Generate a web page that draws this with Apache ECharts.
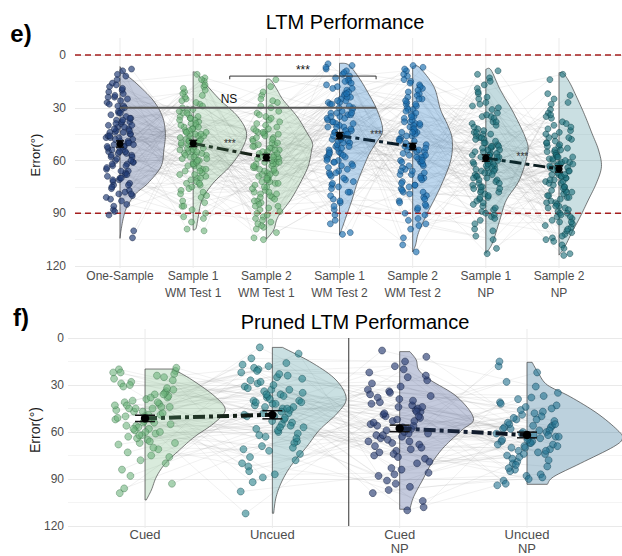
<!DOCTYPE html>
<html><head><meta charset="utf-8">
<script src="https://cdn.jsdelivr.net/npm/echarts@6/dist/echarts.min.js"></script>
<style>html,body{margin:0;padding:0;background:#fff}#c{width:622px;height:556px}</style>
</head><body><div id="c"></div>
<script>
// ---------- categories / ticks ----------
const topCategories = ['One-Sample','Sample 1\nWM Test 1','Sample 2\nWM Test 1','Sample 1\nWM Test 2','Sample 2\nWM Test 2','Sample 1\nNP','Sample 2\nNP'];
const bottomCategories = ['Cued','Uncued','Cued\nNP','Uncued\nNP'];
const yTicks = [0,30,60,90,120];
const refLines = [0,90];

// ---------- top panel: error per participant (deg) ----------
const oneSample = [47,22,63,38,71,55,12,44,80,31, 58,66,41,27,52,74,36,49,18,85, 43,61,9,54,77,33,46,68,24,57, 39,82,50,14,65,29,72,45,53,91, 35,60,48,20,76,42,56,69,30,51, 79,26,44,62,37,100,54,16,73,47, 40,67,23,58,83,34,49,11,64,52, 88,45,70,28,56,39,61,19,75,50, 32,53,78,42,8,66,47,25,59,81, 44,71,36,55,21,63,48,104,38,57, 74,29,52,41,86,60,33,46,68,17, 51,37,62,43,79,24,55,89,40,70];
const s1wm1 = [52,35,70,44,18,61,83,28,49,57, 40,66,23,55,77,46,31,13,63,92, 48,58,37,72,25,53,42,86,60,34, 69,45,21,56,39,79,50,99,15,62, 33,74,47,59,27,43,65,88,51,38, 55,20,68,41,81,36,54,11,73,46, 62,30,49,76,44,57,24,67,95,40, 35,53,84,58,19,70,45,32,61,48, 78,42,26,64,51,90,37,56,14,71, 47,60,33,100,54,22,66,43,80,39, 57,29,75,50,41,63,17,52,86,45, 36,68,55,44,93,31,59,73,49,65];
const s2wm1 = [61,44,78,53,29,86,67,39,57,92, 48,72,56,101,35,64,81,23,59,70, 83,51,66,42,95,58,27,75,62,47, 55,89,37,69,14,77,52,63,84,45, 71,33,60,98,49,80,65,41,57,93, 26,68,54,87,44,73,61,104,36,79, 58,91,47,66,21,76,53,85,62,40, 74,50,97,32,69,59,82,45,64,18, 88,56,71,43,62,94,38,78,51,67, 46,83,60,25,73,55,90,65,105,52, 68,34,79,57,86,48,72,61,42,96, 54,75,63,30,81,50,70,99,58,44];
const s1wm2 = [38,12,55,27,71,44,6,63,33,49, 18,58,41,82,24,35,67,9,52,30, 46,74,15,60,37,22,88,43,56,28, 65,33,8,50,19,78,40,57,26,94, 31,47,69,14,53,36,23,61,42,84, 55,20,39,72,11,48,29,66,5,58, 44,62,25,80,34,51,17,70,38,101, 27,54,45,13,63,32,76,21,49,59, 36,86,16,47,68,24,41,7,57,73, 50,30,64,43,91,19,53,35,78,26, 60,10,46,34,83,56,22,67,39,102, 28,52,75,41,15,61,33,48,96,45];
const s2wm2 = [44,9,58,31,72,17,63,86,39,52, 25,68,47,93,12,55,35,78,61,41, 83,29,50,7,66,44,97,21,57,74, 36,61,15,48,88,27,70,53,108,40, 57,80,33,65,19,46,76,59,24,91, 49,11,69,38,84,55,28,63,42,77, 22,52,96,45,8,71,34,60,87,30, 67,40,56,18,79,48,112,26,62,37, 73,54,31,85,43,14,58,99,68,23, 46,81,6,64,39,75,51,28,90,60, 35,66,20,54,82,42,104,70,16,49, 58,32,78,44,61,25,94,53,74,38];
const s1np = [62,35,78,51,24,69,88,45,57,13, 73,40,59,96,31,66,52,81,19,63, 48,85,56,28,71,60,103,38,75,54, 67,22,49,79,44,92,58,9,64,83, 36,55,74,61,47,110,27,68,52,89, 58,80,42,65,17,76,53,94,33,70, 46,62,86,39,57,25,72,50,99,64, 77,30,54,69,91,43,61,15,82,56, 63,48,100,35,73,59,21,87,67,41, 52,75,60,113,44,66,84,29,57,71, 38,90,55,68,47,78,62,11,93,50, 70,45,81,58,34,65,105,53,76,60];
const s2np = [68,42,87,55,101,73,31,64,92,50, 79,60,23,95,47,70,84,58,108,36, 66,89,52,75,40,98,62,14,81,57, 45,72,104,61,86,33,77,54,93,69, 83,27,65,50,110,74,43,90,59,78, 56,97,38,68,81,62,22,102,71,48, 91,64,53,85,35,76,59,113,44,80, 70,49,96,61,28,88,67,55,75,106, 41,82,63,100,57,72,11,94,66,52, 87,60,46,78,69,34,99,58,84,114, 65,92,51,73,39,86,62,103,77,47, 58,80,68,25,95,54,71,90,63,105];

// means and CI half-widths
const topMeans = [50.6,50.3,58.3,45.9,52.0,58.6,64.8];
const topCI = [1.8,1.8,1.8,1.8,1.8,1.8,1.8];
const topPairs = [[2,3],[4,5],[6,7]];

// half-violin profiles: [error, half-width in category units]
const vOne  = [[6.6,0],[10.4,0.06],[16,0.22],[25.6,0.45],[35,0.58],[44.5,0.62],[54,0.6],[63.5,0.56],[73,0.38],[78.7,0.22],[86,0.1],[92,0.05],[99.5,0.015],[104.3,0]];
const vS1W1 = [[9.5,0],[10.5,0.05],[16,0.16],[25.6,0.37],[35,0.61],[44.5,0.73],[54,0.66],[63.5,0.5],[73,0.27],[82.5,0.12],[92,0.07],[98.5,0.04],[99.6,0]];
const vS2W1 = [[13.8,0],[14.2,0.06],[20,0.15],[25.6,0.23],[35,0.42],[44.5,0.56],[50,0.63],[54,0.62],[63.5,0.57],[73,0.46],[82.5,0.33],[92,0.16],[99.5,0.1],[104.8,0]];
const vS1W2 = [[4.7,0],[5.5,0.12],[12,0.25],[20,0.37],[31,0.51],[42.7,0.59],[50,0.5],[56,0.41],[63.5,0.33],[73,0.24],[82.5,0.17],[92,0.09],[98,0.04],[102.4,0]];
const vS2W2 = [[6.6,0],[7,0.09],[18,0.29],[31,0.38],[40,0.48],[48,0.54],[60,0.52],[75,0.38],[90,0.2],[101,0.08],[108,0.04],[112,0]];
const vS1NP = [[8.1,0],[8.5,0.07],[20,0.2],[33,0.38],[48,0.55],[56,0.57],[71,0.46],[82.5,0.28],[94,0.19],[107,0.09],[112.8,0]];
const vS2NP = [[10,0],[10.5,0.06],[16,0.15],[25.6,0.26],[35,0.36],[44.5,0.45],[54,0.54],[63.5,0.58],[73,0.51],[82.5,0.4],[92,0.29],[101.4,0.17],[109,0.08],[113.8,0]];

// ---------- bottom panel ----------
const cued = [22,45,63,38,54,20,71,47,33,58, 41,25,67,52,36,88,44,60,29,49, 56,21,75,43,34,62,51,24,40,93, 65,31,48,57,26,70,45,37,53,99, 42,59,23,66,50,35,78,46,61,28, 55,39,84,44,64,19,52,73,32,47, 68,41,58,27,49,96,36,62,43,54, 30,76,50,22,60,45,67,38,56,80];
const uncued = [38,17,55,29,66,42,82,24,48,35, 60,19,44,72,31,52,6,40,87,27, 46,63,22,36,58,78,33,50,16,69, 41,25,92,54,37,71,45,20,61,30, 85,48,34,57,23,43,67,39,112,51, 28,74,42,13,56,36,80,47,21,64, 53,32,45,89,26,59,40,70,18,49, 37,62,10,50,76,33,44,98,57,41];
const cuedNP = [47,72,29,58,91,12,63,38,80,53, 66,25,49,104,44,75,56,34,86,60, 41,68,18,55,95,50,77,31,62,46, 83,37,58,8,70,52,99,43,65,27, 57,88,45,74,22,61,48,108,39,69, 53,35,79,15,64,51,93,42,71,59, 24,84,56,47,67,33,110,62,44,76, 54,40,97,61,20,73,50,87,36,66];
const uncuedNP = [58,71,44,66,87,52,63,38,75,60, 49,68,22,80,56,64,91,47,72,35, 62,55,78,69,41,59,84,53,67,93, 74,46,61,31,70,57,88,65,50,79, 43,66,54,82,60,18,73,51,68,90, 57,37,76,63,48,85,59,70,42,64, 81,55,67,28,72,61,94,52,77,45, 65,58,89,39,69,56,83,62,74,15];

const bottomMeans = [51.3,49.0,57.7,61.9];
const bottomCI = [2.0,2.6,2.1,1.8];
const bottomPairs = [[1,2],[3,4]];

const vCued    = [[19.8,0.22],[26.8,0.37],[37.4,0.55],[46,0.63],[54.5,0.54],[63,0.39],[71.5,0.27],[80,0.16],[88.5,0.09],[97,0.05],[103.4,0.01]];
const vUncued  = [[6,0.08],[16.2,0.32],[26.8,0.5],[38.5,0.58],[48,0.51],[58.7,0.37],[69.4,0.27],[80,0.16],[90.6,0.08],[101.3,0.03],[111.9,0.01]];
const vCuedNP  = [[8.7,0.08],[14,0.13],[20.4,0.15],[26.8,0.24],[37.5,0.45],[51.3,0.58],[58.7,0.49],[69.4,0.35],[80,0.25],[90.6,0.18],[101.3,0.11],[109.3,0.08]];
const vUncuedNP= [[15.5,0.04],[22.5,0.09],[30,0.16],[37.5,0.34],[48,0.55],[58.7,0.71],[64,0.75],[69.4,0.68],[80,0.42],[88.5,0.21],[93.4,0.16]];

// annotations (data coordinates)
const topStars = [[2.5,50.5,'***'],[4.5,45.3,'***'],[6.5,57.8,'***']];
const topLabels2 = [[3.5,8.6,'***'],[2.49,25.2,'NS']];
const nsLine = [[1,30],[4.5,30]];
const bracket = [[2.5,13.8],[2.5,12],[4.5,12],[4.5,13.8]];
const separatorX = 2.6;

// ---------- styles ----------
const FONT = '"Liberation Sans", Arial, sans-serif';
const topPt = [
  ['rgba(35,62,120,0.68)','rgba(15,28,60,0.75)'],
  ['rgba(105,178,118,0.6)','rgba(50,105,62,0.65)'],
  ['rgba(105,178,118,0.6)','rgba(50,105,62,0.65)'],
  ['rgba(28,112,178,0.66)','rgba(12,58,100,0.75)'],
  ['rgba(28,112,178,0.66)','rgba(12,58,100,0.75)'],
  ['rgba(28,112,122,0.62)','rgba(10,60,66,0.75)'],
  ['rgba(28,112,122,0.62)','rgba(10,60,66,0.75)']];
const topVFill = ['rgba(60,82,140,0.3)','rgba(125,188,135,0.28)','rgba(125,188,135,0.28)','rgba(70,140,205,0.36)','rgba(70,140,205,0.36)','rgba(80,150,160,0.34)','rgba(80,150,160,0.3)'];
const botPt = [
  ['rgba(105,178,120,0.58)','rgba(50,105,65,0.6)'],
  ['rgba(40,130,140,0.6)','rgba(15,70,78,0.7)'],
  ['rgba(45,65,118,0.66)','rgba(18,28,60,0.75)'],
  ['rgba(35,115,145,0.6)','rgba(12,60,80,0.7)']];
const botVFill = ['rgba(130,190,140,0.3)','rgba(90,160,165,0.32)','rgba(70,90,150,0.32)','rgba(80,135,165,0.38)'];
const topPairCol = [['#2a4a33','#101510'],['#0f2d45','#0a141c'],['#0c3338','#0a1416']];
const botPairCol = [['#30523a','#080c09'],['#1e2c4a','#081018']];

// ---------- build ----------
const topSets = [oneSample,s1wm1,s2wm1,s1wm2,s2wm2,s1np,s2np];
const botSets = [cued,uncued,cuedNP,uncuedNP];
const topV = [vOne,vS1W1,vS2W1,vS1W2,vS2W2,vS1NP,vS2NP];
const botV = [vCued,vUncued,vCuedNP,vUncuedNP];

function jit(i,k){ return ((i*0.6180339887 + k*0.41421356) % 1) - 0.5; }

function catmull(pts, n, minX){
  const out=[];
  for(let i=0;i<pts.length-1;i++){
    const p0=pts[i-1]||pts[i], p1=pts[i], p2=pts[i+1], p3=pts[i+2]||pts[i+1];
    for(let s=0;s<n;s++){
      const t=s/n,t2=t*t,t3=t2*t;
      const f=(a,b,c,d)=>0.5*((2*b)+(-a+c)*t+(2*a-5*b+4*c-d)*t2+(-a+3*b-3*c+d)*t3);
      out.push([Math.max(minX,f(p0[0],p1[0],p2[0],p3[0])), f(p0[1],p1[1],p2[1],p3[1])]);
    }
  }
  out.push(pts[pts.length-1]);
  return out;
}

const series=[];
function lineGrad(c){ return {type:'linear',x:0,y:0,x2:1,y2:0,colorStops:[{offset:0,color:c[0]},{offset:1,color:c[1]}]}; }

function panel(g, nCat, sets, vio, ptSty, vFill, jw, ptSize, means, cis, capPx, rPx, pairs, pairCol, lw, gridExt){
  series.push({type:'custom',xAxisIndex:g,yAxisIndex:g,z:1,silent:true,clip:false,animation:false,
    data:Array.from({length:nCat},(_,k)=>[k+1,0]),
    renderItem(params,api){const cs=params.coordSys;const p=api.coord([api.value(0),0]);
      return {type:'line',shape:{x1:p[0],y1:cs.y-gridExt,x2:p[0],y2:cs.y+cs.height+2},style:{stroke:'#ebebeb',lineWidth:1}};}});
  const n=Math.min(...sets.map(s=>s.length));
  const subj=[];
  for(let i=0;i<n;i++) subj.push({coords:sets.map((s,k)=>[k+1+jit(i,k)*jw, s[i]])});
  series.push({type:'lines',coordinateSystem:'cartesian2d',xAxisIndex:g,yAxisIndex:g,polyline:true,silent:true,z:2,animation:false,
    lineStyle:{color:'rgba(150,150,150,0.28)',width:0.5,opacity:1},data:subj});
  vio.forEach((prof,k)=>{
    const cx=k+1;
    series.push({type:'custom',xAxisIndex:g,yAxisIndex:g,z:3,silent:true,clip:false,animation:false,
      data:[[cx,prof[0][0]]],
      renderItem(params,api){
        const c0=api.coord([cx,prof[0][0]]);
        const pts=prof.map(p=>api.coord([cx+p[1],p[0]]));
        const curve=catmull(pts,8,c0[0]);
        const bot=api.coord([cx,prof[prof.length-1][0]]);
        return {type:'polygon',shape:{points:[c0].concat(curve,[bot])},style:{fill:vFill[k],stroke:'#444',lineWidth:0.7}};
      }});
  });
  sets.forEach((s,k)=>{
    series.push({type:'scatter',xAxisIndex:g,yAxisIndex:g,z:5,silent:true,animation:false,symbolSize:ptSize,
      itemStyle:{color:ptSty[k][0],borderColor:ptSty[k][1],borderWidth:0.6,opacity:1},
      data:s.map((v,i)=>[k+1+jit(i,k)*jw, v])});
  });
  pairs.forEach((pr,j)=>{
    series.push({type:'line',xAxisIndex:g,yAxisIndex:g,z:7,silent:true,animation:false,symbol:'none',
      lineStyle:{color:lineGrad(pairCol[j]),width:lw,type:[12,4,4,4]},
      data:[[pr[0],means[pr[0]-1]],[pr[1],means[pr[1]-1]]]});
  });
  series.push({type:'custom',xAxisIndex:g,yAxisIndex:g,z:8,silent:true,clip:false,animation:false,
    data:means.map((m,k)=>[k+1,m,m-cis[k],m+cis[k]]),
    renderItem(params,api){
      const x=api.value(0);const pm=api.coord([x,api.value(1)]);const lo=api.coord([x,api.value(2)]);const hi=api.coord([x,api.value(3)]);
      return {type:'group',children:[
        {type:'line',shape:{x1:lo[0],y1:lo[1],x2:hi[0],y2:hi[1]},style:{stroke:'#111',lineWidth:1.5}},
        {type:'line',shape:{x1:lo[0]-capPx,y1:lo[1],x2:lo[0]+capPx,y2:lo[1]},style:{stroke:'#111',lineWidth:1.5}},
        {type:'line',shape:{x1:hi[0]-capPx,y1:hi[1],x2:hi[0]+capPx,y2:hi[1]},style:{stroke:'#111',lineWidth:1.5}},
        {type:'circle',shape:{cx:pm[0],cy:pm[1],r:rPx},style:{fill:'#000'}}]};
    }});
}

panel(0,7,topSets,topV,topPt,topVFill,0.38,6,topMeans,topCI,4,3.6,topPairs,topPairCol,3,17);
panel(1,4,botSets,botV,botPt,botVFill,0.5,7,bottomMeans,bottomCI,10,4.2,bottomPairs,botPairCol,4,9);

series.push({type:'custom',xAxisIndex:0,yAxisIndex:0,z:4,silent:true,clip:false,animation:false,
  data:refLines.map(v=>[1,v]),
  renderItem(params,api){const cs=params.coordSys;const p=api.coord([1,api.value(1)]);
    return {type:'line',shape:{x1:cs.x,y1:p[1],x2:cs.x+cs.width,y2:p[1]},style:{stroke:'#a51e1e',lineWidth:1.5,lineDash:[6,4]}};}});
series.push({type:'custom',xAxisIndex:0,yAxisIndex:0,z:6,silent:true,clip:false,animation:false,
  data:[[nsLine[0][0],nsLine[0][1]]],
  renderItem(params,api){
    return {type:'group',children:[
      {type:'polyline',shape:{points:nsLine.map(p=>api.coord(p))},style:{stroke:'#5a5a5a',lineWidth:1.8,fill:null}},
      {type:'polyline',shape:{points:bracket.map(p=>api.coord(p))},style:{stroke:'#333',lineWidth:1,fill:null}}]};
  }});
function textSeries(g,items,size,col){
  series.push({type:'scatter',xAxisIndex:g,yAxisIndex:g,z:9,silent:true,animation:false,symbolSize:2,
    itemStyle:{color:'rgba(0,0,0,0)',borderWidth:0},
    label:{show:true,position:'inside',formatter:p=>p.value[2],color:col,fontSize:size,fontFamily:FONT,opacity:1},
    labelLayout:{hideOverlap:false},
    data:items});
}
textSeries(0,topStars,10,'#333');
textSeries(0,topLabels2,12,'#111');
series.push({type:'custom',xAxisIndex:1,yAxisIndex:1,z:6,silent:true,clip:false,animation:false,
  data:[[separatorX,0]],
  renderItem(params,api){const a=api.coord([separatorX,0]);const b=api.coord([separatorX,120]);
    return {type:'line',shape:{x1:a[0],y1:a[1],x2:b[0],y2:b[1]},style:{stroke:'#333',lineWidth:1}};}});

function yAx(g,margin){
  return {gridIndex:g,type:'value',inverse:true,min:yTicks[0],max:yTicks[yTicks.length-1],interval:30,
    axisLine:{show:false},axisTick:{show:false},
    axisLabel:{fontSize:12,color:'#4d4d4d',margin:margin,fontFamily:FONT},
    splitLine:{show:true,lineStyle:{color:'#e9e9e9',width:1}},
    minorTick:{show:false,splitNumber:2},minorSplitLine:{show:true,lineStyle:{color:'#f4f4f4',width:1}}};
}
function xAx(g,min,max,cats,fs,lh,margin){
  return {gridIndex:g,type:'value',min:min,max:max,axisLine:{show:false},axisTick:{show:false},splitLine:{show:false},
    axisLabel:{customValues:cats.map((_,i)=>i+1),formatter:v=>cats[Math.round(v)-1]||'',fontSize:fs,lineHeight:lh,color:'#4d4d4d',margin:margin,fontFamily:FONT,interval:0}};
}

const chart=echarts.init(document.getElementById('c'),null,{renderer:'svg',width:622,height:556});
chart.setOption({
  animation:false,
  backgroundColor:'#fff',
  textStyle:{fontFamily:FONT},
  grid:[{left:75,right:0,top:55,height:211,outerBoundsMode:'none',containLabel:false},
        {left:68,right:0,top:338,height:188,outerBoundsMode:'none',containLabel:false}],
  xAxis:[xAx(0,0.385,7.861,topCategories,12,17,1),xAx(1,0.395,4.746,bottomCategories,13,14,1)],
  yAxis:[yAx(0,9),yAx(1,4)],
  graphic:[
    {type:'text',x:21,y:33,style:{text:'e)',font:'bold 24px '+FONT,fill:'#000',align:'center',verticalAlign:'middle',textAlign:'center',textVerticalAlign:'middle'}},
    {type:'text',x:345,y:22,style:{text:'LTM Performance',font:'20px '+FONT,fill:'#000',align:'center',verticalAlign:'middle',textAlign:'center',textVerticalAlign:'middle'}},
    {type:'text',x:35,y:155,rotation:Math.PI/2,style:{text:'Error(°)',font:'13px '+FONT,fill:'#1a1a1a',align:'center',verticalAlign:'middle',textAlign:'center',textVerticalAlign:'middle'}},
    {type:'text',x:21,y:317,style:{text:'f)',font:'bold 24px '+FONT,fill:'#000',align:'center',verticalAlign:'middle',textAlign:'center',textVerticalAlign:'middle'}},
    {type:'text',x:355,y:322,style:{text:'Pruned LTM Performance',font:'20px '+FONT,fill:'#000',align:'center',verticalAlign:'middle',textAlign:'center',textVerticalAlign:'middle'}},
    {type:'text',x:35,y:430,rotation:Math.PI/2,style:{text:'Error(°)',font:'14px '+FONT,fill:'#1a1a1a',align:'center',verticalAlign:'middle',textAlign:'center',textVerticalAlign:'middle'}}
  ],
  series:series
});
</script></body></html>
